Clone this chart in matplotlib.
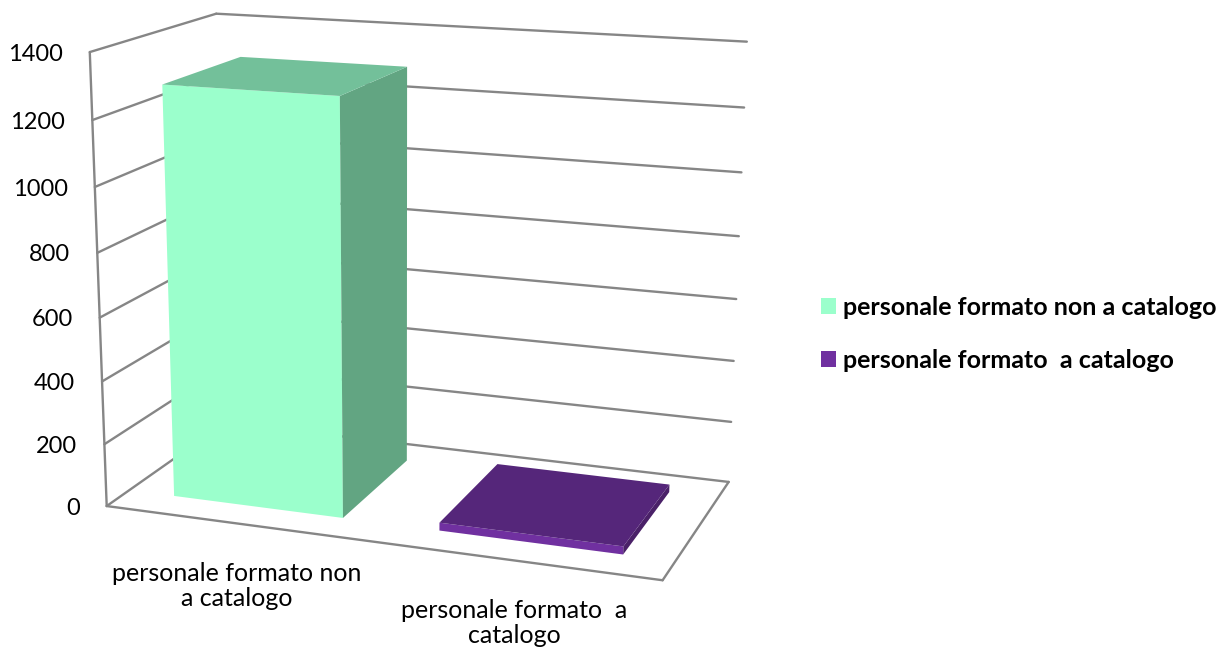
import numpy as np
import matplotlib
matplotlib.use("Agg")
import matplotlib.pyplot as plt
from matplotlib.patches import Patch

categories = ["personale formato non\na catalogo", "personale formato  a\ncatalogo"]
legend_labels = ["personale formato non a catalogo", "personale formato  a catalogo"]
values = [1290, 25]
y_ticks = [0, 200, 400, 600, 800, 1000, 1200, 1400]

front_colors = ["#9BFFCC", "#7030A0"]
side_colors = ["#62A582", "#4A2168"]
top_colors = ["#73C09A", "#55267A"]
grid_color = "#868686"

# camera fit: (category, value, depth) -> pixel
anchors = [
    (0, 0, 0, 107.7, 506.5), (2, 0, 0, 662, 581), (2, 0, 1, 729, 481), (0, 0, 1, 225, 423),
    (0, 1400, 0, 90, 52), (0, 1400, 1, 216, 14), (2, 1400, 1, 747, 42),
    (0, 200, 0, 104, 444), (0, 800, 0, 97, 252), (2, 200, 1, 731, 422), (2, 800, 1, 739, 236),
]
rows = []
for x, y, z, u, v in anchors:
    y = y / 1400
    rows.append([x, y, z, 1, 0, 0, 0, 0, -u * x, -u * y, -u * z, -u])
    rows.append([0, 0, 0, 0, x, y, z, 1, -v * x, -v * y, -v * z, -v])
cam = np.linalg.svd(np.array(rows, dtype=float))[2][-1].reshape(3, 4)


def project(x, y, z):
    p = cam @ np.array([x, y / 1400, z, 1.0])
    return p[0] / p[2], p[1] / p[2]


fig = plt.figure(figsize=(12.22, 6.54), dpi=100)
ax = fig.add_axes([0, 0, 1, 1])
ax.set_xlim(0, 1222)
ax.set_ylim(654, 0)
ax.axis("off")


def line3d(p0, p1):
    (u0, v0), (u1, v1) = project(*p0), project(*p1)
    ax.plot([u0, u1], [v0, v1], color=grid_color, lw=1.7, solid_capstyle="round", zorder=1)


# walls and floor
for t in y_ticks:
    line3d((0, t, 0), (0, t, 1))
    line3d((0, t, 1), (2, t, 1))
line3d((0, 0, 0), (0, 1400, 0))
line3d((0, 0, 0), (2, 0, 0))
line3d((2, 0, 0), (2, 0, 1))

for t in y_ticks:
    u, v = project(0, t, 0)
    ax.text(u - 27, v + 2, str(t), ha="right", va="center", fontsize=17, family="Lato", color="black")

# bars
bar_width = 0.646
z0, z1 = 0.175, 0.82
for i, val in enumerate(values):
    x0, x1 = i + 0.5 - bar_width / 2, i + 0.5 + bar_width / 2
    faces = [
        ([(x0, 0, z0), (x1, 0, z0), (x1, val, z0), (x0, val, z0)], front_colors[i]),
        ([(x1, 0, z0), (x1, 0, z1), (x1, val, z1), (x1, val, z0)], side_colors[i]),
        ([(x0, val, z0), (x1, val, z0), (x1, val, z1), (x0, val, z1)], top_colors[i]),
    ]
    for corners, c in faces:
        pts = [project(*p) for p in corners]
        ax.fill([p[0] for p in pts], [p[1] for p in pts], color=c, lw=0, zorder=3)

for i, label in enumerate(categories):
    u, v = project(i + 0.5, 0, 0)
    ax.text(u, v + 39, label, ha="center", va="top", fontsize=18, family="Lato",
            linespacing=1.1, color="black")

handles = [Patch(color=c, lw=0) for c in front_colors]
ax.legend(handles, legend_labels, loc="upper left", bbox_to_anchor=(821 / 1222, 1 - 296 / 654),
          frameon=False, borderpad=0, borderaxespad=0, handlelength=0.6, handleheight=0.6,
          handletextpad=0.28, labelspacing=1.2, prop={"family": "Lato", "weight": "bold", "size": 18})

fig.savefig("out.png", dpi=100)
